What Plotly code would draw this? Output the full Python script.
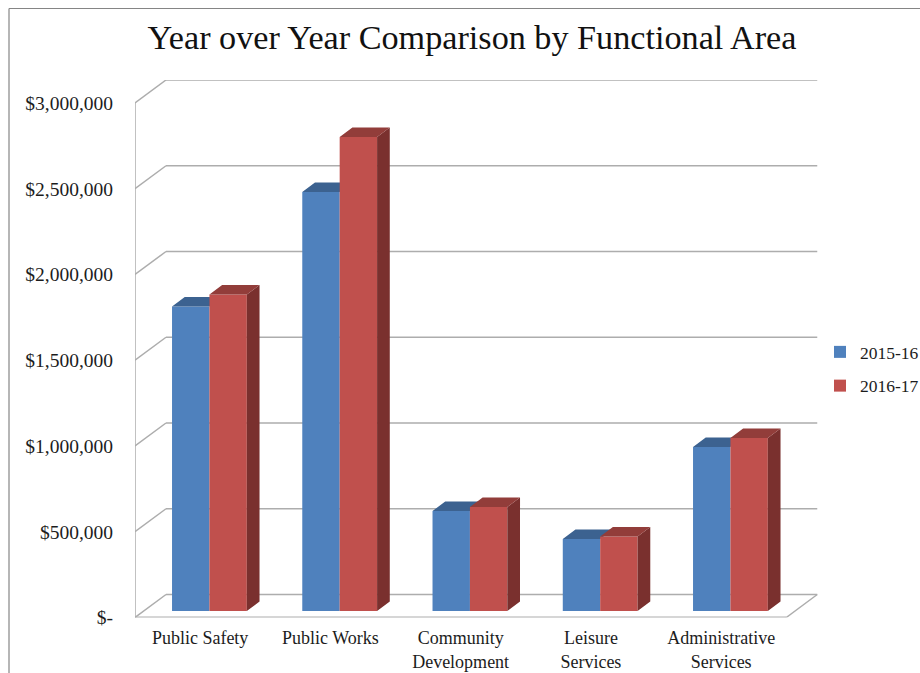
import plotly.graph_objects as go

categories = ["Public Safety", "Public Works", "Community<br>Development", "Leisure<br>Services", "Administrative<br>Services"]
fy2015_16 = [1775000, 2443000, 583000, 420000, 956000]
fy2016_17 = [1845000, 2764000, 606000, 434000, 1009000]
tick_values = [0, 500000, 1000000, 1500000, 2000000, 2500000, 3000000]
tick_labels = ["$-", "$500,000", "$1,000,000", "$1,500,000", "$2,000,000", "$2,500,000", "$3,000,000"]

W, H = 920, 673
PX_L, PX_R, PX_T, PX_B = 135, 818, 80, 617.5
GROUP_PX = 130.25
PX_PER_DOLLAR = 85.75 / 500000
SERIF = "Liberation Serif"
TXT = "#1c1c1c"
GRID = "#adadad"


def xu(px):
    return px / GROUP_PX


def yu(px):
    return px / PX_PER_DOLLAR


wall_dx, wall_dy = xu(31), yu(23)
bar_w = xu(37.4)
bar_dx, bar_dy = xu(12.7), yu(9.5)
plane_dx, plane_dy = xu(9.3), yu(6.5)
n = len(categories)


def poly(points):
    xs, ys = [], []
    for x, y in points:
        xs.append(x)
        ys.append(y)
    xs.append(points[0][0])
    ys.append(points[0][1])
    xs.append(None)
    ys.append(None)
    return xs, ys


def faces(values, series_index, include_side):
    top_x, top_y, side_x, side_y = [], [], [], []
    for i, v in enumerate(values):
        x0 = i + 0.5 + plane_dx + (series_index - 1) * bar_w
        x1 = x0 + bar_w
        yt = plane_dy + v
        a, b = poly([(x0, yt), (x1, yt), (x1 + bar_dx, yt + bar_dy), (x0 + bar_dx, yt + bar_dy)])
        top_x += a
        top_y += b
        a, b = poly([(x1, plane_dy), (x1 + bar_dx, plane_dy + bar_dy), (x1 + bar_dx, yt + bar_dy), (x1, yt)])
        side_x += a
        side_y += b
    return top_x, top_y, side_x if include_side else [], side_y if include_side else []


def add_series(fig, name, values, series_index, front, top, side, xa, ya, group):
    fig.add_trace(go.Bar(
        x=[i + 0.5 + plane_dx + (series_index - 1) * bar_w for i in range(n)],
        y=values, base=plane_dy, width=bar_w, offset=0, name=name,
        marker=dict(color=front, line=dict(width=0)), xaxis=xa, yaxis=ya, legendgroup=group,
        customdata=[c.replace("<br>", " ") for c in categories],
        hovertemplate="%{customdata}<br>" + name + ": $%{y:,.0f}<extra></extra>",
    ))
    tx, ty, sx, sy = faces(values, series_index, include_side=series_index == 1)
    if sx:
        fig.add_trace(go.Scatter(x=sx, y=sy, mode="lines", fill="toself", fillcolor=side,
                                 line=dict(width=0), hoverinfo="skip", showlegend=False,
                                 xaxis=xa, yaxis=ya, legendgroup=group))
    fig.add_trace(go.Scatter(x=tx, y=ty, mode="lines", fill="toself", fillcolor=top,
                             line=dict(width=0), hoverinfo="skip", showlegend=False,
                             xaxis=xa, yaxis=ya, legendgroup=group))


fig = go.Figure()
add_series(fig, "2015-16", fy2015_16, 0, "#4f81bd", "#3c6290", "#355a85", "x", "y", "a")
add_series(fig, "2016-17", fy2016_17, 1, "#c0504d", "#923d3a", "#7a302e", "x2", "y2", "b")


def seg(x0, y0, x1, y1, color=GRID, width=1.5, xref="x", yref="y"):
    return dict(type="line", x0=x0, y0=y0, x1=x1, y1=y1, xref=xref, yref=yref,
                layer="below", line=dict(color=color, width=width))


shapes = []
for v in tick_values:
    shapes.append(seg(0, v, wall_dx, v + wall_dy))
    shapes.append(seg(wall_dx, v + wall_dy, n + wall_dx, v + wall_dy))
shapes.append(seg(0, 0, 0, tick_values[-1]))
shapes.append(seg(0, 0, n, 0, width=2))
shapes.append(seg(n, 0, n + wall_dx, wall_dy))
# outer chart frame
FRAME_X, FRAME_Y = 9 / W, 1 - 8.5 / H
shapes.append(seg(FRAME_X, 0, FRAME_X, FRAME_Y, color="#858585", width=1.2, xref="paper", yref="paper"))
shapes.append(seg(FRAME_X, FRAME_Y, 1, FRAME_Y, color="#858585", width=1.2, xref="paper", yref="paper"))

x_range = [0, xu(PX_R - PX_L)]
y_range = [0, yu(PX_B - PX_T)]

fig.update_layout(
    width=W, height=H, autosize=False,
    margin=dict(l=0, r=0, t=0, b=0, autoexpand=False),
    paper_bgcolor="white", plot_bgcolor="rgba(0,0,0,0)",
    barmode="overlay", shapes=shapes,
    font=dict(family=SERIF, color=TXT),
    title=dict(text="Year over Year Comparison by Functional Area", x=472 / W, xanchor="center",
               y=1 - 37 / H, yanchor="middle", font=dict(family=SERIF, size=34.2, color="#111111")),
    xaxis=dict(domain=[PX_L / W, PX_R / W], range=x_range, tickmode="array",
               tickvals=[i + 0.5 for i in range(n)], ticktext=categories,
               showgrid=False, zeroline=False, showline=False,
               ticks="outside", ticklen=4, tickcolor="rgba(0,0,0,0)",
               tickfont=dict(family=SERIF, size=18, color=TXT), tickangle=0),
    yaxis=dict(domain=[1 - PX_B / H, 1 - PX_T / H], range=y_range, tickmode="array",
               tickvals=tick_values, ticktext=tick_labels,
               showgrid=False, zeroline=False, showline=False,
               ticks="outside", ticklen=17, tickcolor="rgba(0,0,0,0)",
               tickfont=dict(family=SERIF, size=19.5, color=TXT)),
    xaxis2=dict(overlaying="x", matches="x", visible=False),
    yaxis2=dict(overlaying="y", matches="y", visible=False),
    legend=dict(x=820 / W, xanchor="left", y=1 - 369 / H, yanchor="middle",
                traceorder="grouped", tracegroupgap=8, borderwidth=0,
                bgcolor="rgba(0,0,0,0)", font=dict(family=SERIF, size=17.5, color=TXT)),
)
fig.write_html("out.html", config={"displayModeBar": False},
               post_script="document.body.style.margin='0';document.documentElement.style.overflow='hidden';")
